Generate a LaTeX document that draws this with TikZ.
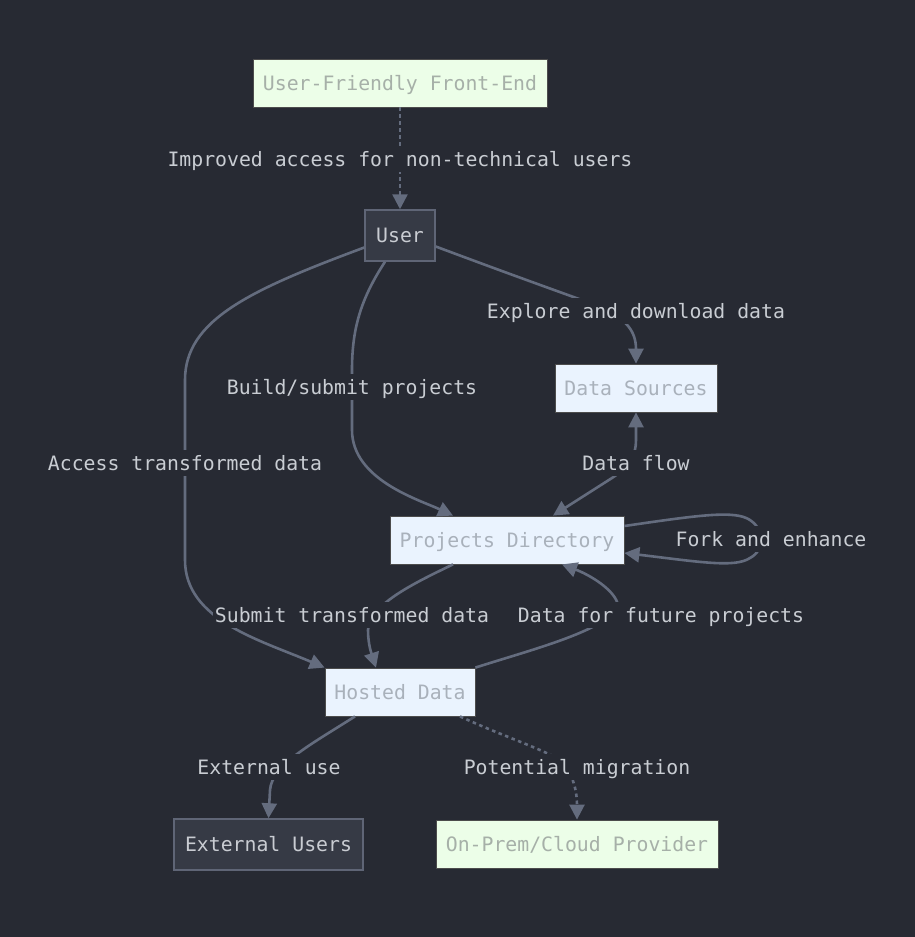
\documentclass[tikz,border=0pt]{standalone}
\usepackage{fontspec}
\setmonofont{DejaVu Sans Mono}
\usetikzlibrary{arrows.meta}
\definecolor{bg}{RGB}{39,42,51}
\definecolor{edgec}{RGB}{100,108,126}
\definecolor{labc}{RGB}{201,205,211}
\definecolor{lbfill}{RGB}{234,243,254}
\definecolor{lgfill}{RGB}{236,254,232}
\definecolor{ltext}{RGB}{169,177,187}
\definecolor{gtext}{RGB}{166,176,168}
\definecolor{dfill}{RGB}{54,58,69}
\definecolor{dborder}{RGB}{95,101,118}
\definecolor{dtext}{RGB}{201,204,210}
\tikzset{
  base/.style={font=\ttfamily\fontsize{19.8}{23}\selectfont, inner sep=0pt, minimum height=48pt, text height=18pt, text depth=4pt},
  lightblue/.style={base, fill=lbfill, draw=black!70, line width=0.8pt, text=ltext},
  lightgreen/.style={base, fill=lgfill, draw=black!70, line width=0.8pt, text=gtext},
  darkbox/.style={base, fill=dfill, draw=dborder, line width=1.5pt, text=dtext, minimum height=51pt},
  tip/.style={Triangle[length=15pt,width=15pt]},
  edge/.style={draw=edgec, line width=2.6pt, -{Triangle[length=15pt,width=15pt]}},
  dotedge/.style={edge, dash pattern=on 3.5pt off 3.5pt},
  lab/.style={font=\ttfamily\fontsize{19.8}{23}\selectfont, text=labc, fill=bg, inner sep=2pt, text height=18pt, text depth=4pt}
}
\begin{document}
\begin{tikzpicture}[x=1pt,y=-1pt]
\path[fill=bg, use as bounding box] (0,0) rectangle (915,937);

\node[lightgreen, minimum width=294pt] (fe) at (400,83) {User-Friendly Front-End};
\node[darkbox, minimum width=70pt] (user) at (400,235.5) {User};
\node[lightblue, minimum width=162pt] (ds) at (636,388) {Data Sources};
\node[lightblue, minimum width=234pt] (pd) at (507,540) {Projects Directory};
\node[lightblue, minimum width=150pt] (hd) at (400,692) {Hosted Data};
\node[darkbox, minimum width=189pt] (eu) at (268.5,844.5) {External Users};
\node[lightgreen, minimum width=282pt] (op) at (577,844) {On-Prem/Cloud Provider};

% edges
\draw[dotedge] (fe) -- (user);
\draw[edge] ([yshift=-11pt]user.east) .. controls (520,278) and (560,292) .. (590,303) .. controls (625,316) and (636,330) .. (ds.north);
\draw[edge] ([xshift=-15pt]user.south) .. controls (360,300) and (352,330) .. (352,370) -- (352,430) .. controls (352,480) and (420,500) .. ([xshift=-54pt]pd.north);
\draw[edge] ([yshift=-12pt]user.west) .. controls (250,290) and (185,320) .. (185,380) -- (185,560) .. controls (185,620) and (260,640) .. (hd.north west);
\draw[edge, {Triangle[length=15pt,width=15pt]}-{Triangle[length=15pt,width=15pt]}] ([xshift=46pt]pd.north) -- (612,478) .. controls (630,466) and (636,455) .. (636,440) -- (ds.south);
\draw[edge] ([yshift=14pt]pd.east) .. controls (700,515) and (735,510) .. (750,520) .. controls (765,530) and (765,550) .. (750,558) .. controls (735,568) and (700,562) .. ([yshift=-13pt]pd.east);
\draw[edge] ([xshift=-54pt]pd.south) .. controls (410,585) and (370,605) .. (368,630) .. controls (368,645) and (372,655) .. ([xshift=-24pt]hd.north);
\draw[edge] (hd.north east) .. controls (530,650) and (610,630) .. (618,605) .. controls (615,590) and (590,575) .. ([xshift=55pt]pd.south);
\draw[edge] ([xshift=-45pt]hd.south) .. controls (310,745) and (272,765) .. (270,790) -- (eu.north);
\draw[dotedge] ([xshift=60pt]hd.south) .. controls (500,735) and (540,748) .. (560,760) .. controls (575,775) and (577,795) .. (op.north);

% labels
\node[lab] (l1) at (400,159) {Improved access for non-technical users};
\node[lab] (l2) at (636,311) {Explore and download data};
\node[lab] (l3) at (352,387) {Build/submit projects};
\node[lab] (l4) at (185,463) {Access transformed data};
\node[lab] (l5) at (636,463) {Data flow};
\node[lab] (l6) at (771,539) {Fork and enhance};
\node[lab] (l7) at (352,615) {Submit transformed data};
\node[lab] (l8) at (661,615) {Data for future projects};
\node[lab] (l9) at (269,767) {External use};
\node[lab] (l10) at (577,767) {Potential migration};
\end{tikzpicture}
\end{document}
